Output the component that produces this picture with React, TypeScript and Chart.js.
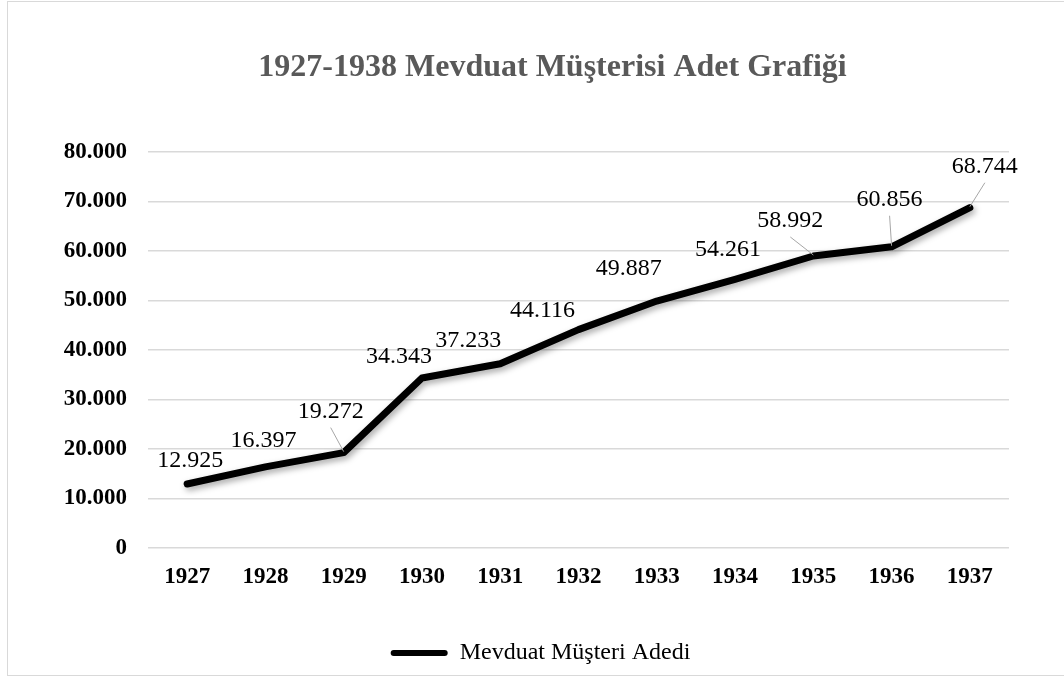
import React, { useEffect, useRef } from "react";
import { Chart, registerables } from "chart.js";

Chart.register(...registerables);

const years = ["1927", "1928", "1929", "1930", "1931", "1932", "1933", "1934", "1935", "1936", "1937"];
const depositors = [12925, 16397, 19272, 34343, 37233, 44116, 49887, 54261, 58992, 60856, 68744];
const seriesName = "Mevduat Müşteri Adedi";
const chartTitle = "1927-1938 Mevduat Müşterisi Adet Grafiği";

// label placement (style, not data): offsets of label centre from its point
const labelNudge: [number, number][] = [
  [3, -23], [-2, -26], [-13, -41], [-23, -21], [-32, -23], [-36, -19],
  [-28, -32], [-7, -30], [-23, -35], [-2, -47], [15, -41],
];
const leaderIdx = [2, 8, 9, 10];

const FONT = '"Liberation Serif", "Times New Roman", serif';
const fmt = (v: number) => String(Math.round(v)).replace(/\B(?=(\d{3})+(?!\d))/g, ".");

const shadowPlugin = {
  id: "lineShadow",
  beforeDatasetDraw(chart: any) {
    const ctx = chart.ctx;
    ctx.save();
    ctx.shadowColor = "rgba(0,0,0,0.35)";
    ctx.shadowBlur = 6;
    ctx.shadowOffsetX = 2;
    ctx.shadowOffsetY = 3;
  },
  afterDatasetDraw(chart: any) {
    chart.ctx.restore();
  },
};

const legendShiftPlugin = {
  id: "legendShift",
  afterLayout(chart: any) {
    if (chart.legend) {
      chart.legend.left -= 12;
      chart.legend.right -= 12;
    }
  },
};

const labelPlugin = {
  id: "dataLabels",
  afterDatasetsDraw(chart: any) {
    const ctx = chart.ctx;
    const meta = chart.getDatasetMeta(0);
    ctx.save();
    meta.data.forEach((pt: any, i: number) => {
      const [dx, dy] = labelNudge[i];
      const cx = pt.x + dx;
      const cy = pt.y + dy;
      if (leaderIdx.includes(i)) {
        ctx.strokeStyle = "#a6a6a6";
        ctx.lineWidth = 1;
        ctx.beginPath();
        ctx.moveTo(cx, cy + 16);
        ctx.lineTo(pt.x, pt.y - 1);
        ctx.stroke();
      }
      ctx.fillStyle = "#000";
      ctx.font = `24px ${FONT}`;
      ctx.textAlign = "center";
      ctx.textBaseline = "middle";
      ctx.fillText(fmt(depositors[i]), cx, cy);
    });
    ctx.restore();
  },
};

export default function App() {
  const ref = useRef<HTMLCanvasElement>(null);
  useEffect(() => {
    const chart = new Chart(ref.current as HTMLCanvasElement, {
      type: "line",
      data: {
        labels: years,
        datasets: [
          {
            label: seriesName,
            data: depositors,
            borderColor: "#000",
            backgroundColor: "#000",
            borderWidth: 7,
            borderCapStyle: "round",
            borderJoinStyle: "round",
            pointRadius: 0,
            tension: 0,
            yAxisID: "y",
          },
        ],
      },
      options: {
        responsive: false,
        animation: false,
        layout: { padding: 0 },
        plugins: {
          title: {
            display: true,
            text: chartTitle,
            color: "#595959",
            font: { family: FONT, size: 32, weight: "bold" },
            padding: { top: 47, bottom: 64.6 },
          },
          legend: {
            position: "bottom",
            labels: {
              color: "#000",
              font: { family: FONT, size: 24 },
              boxWidth: 57,
              boxHeight: 6,
              padding: 10,
              useBorderRadius: true,
              borderRadius: 3,
              generateLabels: () => [
                {
                  text: seriesName,
                  fillStyle: "#000",
                  strokeStyle: "#000",
                  lineWidth: 0,
                  hidden: false,
                  datasetIndex: 0,
                  fontColor: "#000",
                  borderRadius: 3,
                } as any,
              ],
            },
          },
          tooltip: { enabled: false },
        },
        scales: {
          x: {
            offset: true,
            grid: { display: false },
            border: { display: false },
            ticks: {
              color: "#000",
              font: { family: FONT, size: 23, weight: "bold" },
              padding: 7,
              maxRotation: 0,
            },
            afterFit: (s: any) => {
              s.height = 83;
            },
          },
          y: {
            min: 0,
            max: 80000,
            grid: { color: "#d9d9d9", lineWidth: 1.5, drawTicks: false },
            border: { display: false },
            ticks: {
              stepSize: 10000,
              color: "#000",
              font: { family: FONT, size: 23, weight: "bold" },
              padding: 21,
              callback: (v: any) => fmt(Number(v)),
            },
            afterFit: (s: any) => {
              s.width = 140;
            },
          },
          yR: {
            type: "linear",
            position: "right",
            display: true,
            grid: { display: false, drawTicks: false },
            border: { display: false },
            ticks: { display: false },
            afterFit: (s: any) => {
              s.width = 88;
            },
          },
        },
      } as any,
      plugins: [shadowPlugin, labelPlugin, legendShiftPlugin],
    });
    return () => chart.destroy();
  }, []);

  return (
    <div style={{ position: "absolute", left: 0, top: 0, width: 1064, height: 677, overflow: "hidden", background: "#fff" }}>
      <div
        style={{
          position: "absolute",
          left: 7,
          top: 1,
          width: 1091,
          height: 675,
          border: "1px solid #d9d9d9",
          boxSizing: "border-box",
          background: "#fff",
        }}
      >
        <canvas ref={ref} width={1089} height={673} style={{ display: "block" }} />
      </div>
    </div>
  );
}
